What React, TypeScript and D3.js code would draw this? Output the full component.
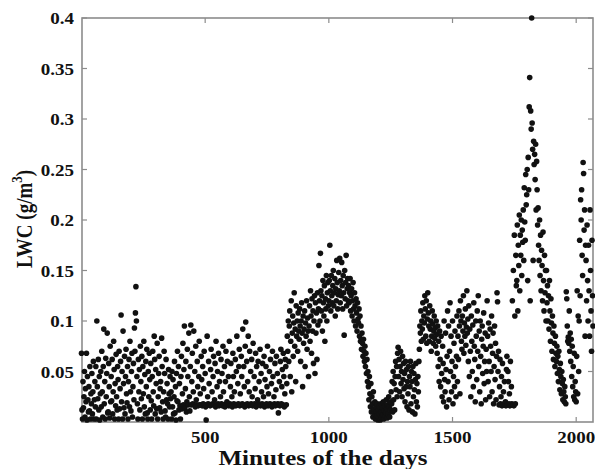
import React from "react";
import * as d3 from "d3";

// Tick values
const xTickValues = [500, 1000, 1500, 2000];
const yTickValues = [0.05, 0.1, 0.15, 0.2, 0.25, 0.3, 0.35, 0.4];

// LWC readings (in 0.001 g/m^3), sampled every 2 minutes, split in day segments
const stepMinutes = 2;

const earlyStart = 0;
const lwcEarly = [
  68, 12, 3, 40, 14, 25, 50, 5, 33, 20, 68, 2, 45, 22, 10, 35, 11, 55, 3, 28,
  18, 48, 8, 30, 60, 3, 22, 40, 15, 55, 3, 100, 35, 23, 62, 12, 45, 2, 28, 50,
  15, 70, 30, 5, 55, 92, 18, 40, 3, 63, 25, 48, 88, 9, 10, 58, 35, 4, 75, 20,
  45, 21, 62, 8, 30, 80, 52, 3, 38, 16, 67, 25, 12, 55, 42, 3, 70, 13, 33, 60,
  106, 20, 50, 3, 90, 38, 14, 65, 8, 45, 72, 28, 19, 55, 3, 40, 62, 15, 80, 30,
  11, 50, 68, 5, 35, 58, 22, 93, 70, 108, 134, 100, 45, 18, 3, 62, 30, 52, 12, 75,
  40, 23, 65, 3, 55, 28, 80, 15, 47, 8, 60, 35, 72, 9, 3, 50, 25, 68, 42, 12,
  58, 21, 3, 45, 70, 30, 16, 85, 62, 8, 52, 38, 13, 78, 3, 25, 48, 65, 14, 33,
  40, 10, 83, 55, 20, 3, 30, 70, 48, 11, 5, 62, 22, 38, 18, 3, 52, 28, 15, 45,
  23, 30, 3, 50, 15, 42, 8, 25, 60, 9, 35, 2, 48, 21, 70, 20, 55, 12, 38, 16,
  3, 45, 65, 13, 28, 78, 17, 52, 95, 14, 33, 60, 10, 20, 72, 45, 17, 88, 25, 11,
  55, 96, 17, 40, 68, 18, 30, 90, 17, 50, 15, 75, 22, 17, 60, 35, 16, 45, 80, 17,
];

const morningStart = 480;
const lwcMorning = [
  28, 17, 65, 42, 16, 55, 18, 33, 70, 17, 48, 15, 2, 17, 85, 25, 18, 60, 38, 17,
  16, 52, 72, 17, 30, 18, 45, 65, 17, 22, 58, 15, 80, 17, 35, 50, 18, 68, 16, 40,
  17, 25, 62, 18, 48, 16, 75, 30, 17, 55, 15, 40, 70, 18, 20, 60, 17, 45, 16, 80,
  18, 35, 58, 17, 25, 15, 68, 45, 18, 30, 17, 62, 16, 50, 85, 17, 38, 18, 55, 72,
  16, 28, 17, 65, 45, 18, 92, 17, 55, 35, 15, 75, 99, 17, 60, 18, 40, 85, 16, 30,
  70, 17, 50, 18, 62, 25, 16, 78, 17, 45, 18, 33, 68, 15, 55, 17, 22, 60, 18, 40,
  17, 72, 16, 48, 30, 18, 58, 17, 25, 65, 15, 42, 17, 55, 18, 35, 75, 16, 28, 17,
  50, 18, 62, 17, 38, 15, 70, 45, 17, 25, 18, 58, 16, 32, 65, 17, 48, 18, 9, 17,
  40, 16, 60, 72, 18, 35, 52, 17, 68, 45, 15, 28, 62, 55, 17, 38, 85, 70, 100, 60,
];

const riseStart = 840;
const lwcRise = [
  95, 110, 45, 80, 120, 30, 88, 105, 65, 98, 128, 75, 92, 40, 115, 85, 100, 70, 108, 90,
  82, 112, 95, 60, 100, 118, 88, 35, 105, 78, 92, 110, 55, 98, 85, 120, 72, 103, 90, 45,
  95, 115, 80, 130, 105, 68, 122, 90, 110, 58, 100, 125, 48, 118, 88, 108, 62, 128, 96, 112,
  155, 120, 100, 167, 130, 110, 125, 90, 140, 118, 105, 135, 80, 122, 112, 145, 100, 128, 138, 115,
  120, 140, 175, 130, 110, 145, 125, 118, 135, 150, 115, 128, 142, 105, 132, 120, 160, 138, 112, 126,
  148, 130, 162, 118, 140, 125, 158, 135, 112, 145, 128, 86, 150, 122, 138, 165, 115, 132, 142, 120,
  135, 118, 128, 142, 110, 125, 132, 105, 120, 138, 112, 100, 128, 115, 95, 122, 108, 90, 118, 102,
  98, 112, 85, 105, 80, 95, 72, 88, 78, 65, 82, 70, 60, 75, 55, 68, 48, 62, 40, 50,
  35, 22, 45, 28, 15, 38, 10, 25, 18, 5, 30, 12, 8, 20, 3, 15, 10, 6, 18, 2,
];

const midStart = 1200;
const lwcMid = [
  12, 5, 15, 8, 2, 18, 10, 4, 14, 7, 20, 3, 11, 16, 6, 9, 22, 13, 4, 17,
  8, 25, 15, 5, 20, 12, 30, 18, 40, 10, 50, 22, 38, 12, 45, 60, 32, 55, 25, 68,
  74, 45, 62, 30, 55, 70, 38, 50, 25, 65, 42, 58, 33, 48, 20, 60, 35, 52, 15, 40,
  28, 55, 12, 45, 35, 60, 18, 50, 40, 10, 55, 25, 48, 32, 8, 42, 58, 20, 38, 15,
  45, 30, 60, 72, 95, 88, 110, 80, 100, 92, 118, 82, 105, 98, 125, 112, 85, 120, 78, 102,
  128, 108, 95, 80, 115, 92, 100, 70, 85, 110, 97, 78, 90, 105, 83, 93, 75, 100, 87, 68,
  95, 55, 80, 40, 90, 62, 35, 85, 48, 25, 75, 58, 20, 100, 42, 30, 88, 52, 15, 65,
  110, 40, 95, 22, 70, 118, 50, 85, 30, 60, 100, 18, 45, 78, 35, 90, 55, 25, 65, 105,
  40, 85, 62, 110, 95, 28, 120, 100, 80, 72, 105, 90, 125, 68, 98, 85, 112, 76, 94, 130,
  88, 102, 60, 115, 45, 92, 70, 25, 105, 80, 50, 96, 35, 118, 75, 62, 20, 100, 85, 42,
  110, 70, 125, 55, 90, 30, 100, 65, 18, 82, 95, 48, 75, 108, 38, 60, 88, 22, 72, 50,
  120, 85, 40, 98, 60, 25, 92, 75, 50, 105, 30, 68, 88, 18, 55, 95, 42, 78, 22, 65,
  128, 119, 50, 70, 17, 35, 62, 18, 25, 45, 16, 58, 17, 30, 18, 40, 17, 20, 16, 52,
  65, 17, 50, 40, 18, 28, 16, 60, 17, 35, 18, 120, 17, 150, 16, 185, 105, 18, 165, 135,
];

const peakStart = 1760;
const lwcPeak = [
  140, 195, 110, 175, 155, 205, 130, 185, 165, 200, 145, 190, 178, 210, 160, 232, 198, 180, 245, 215,
  225, 250, 140, 262, 230, 312, 341, 120, 308, 290, 400, 296, 270, 160, 278, 255, 265, 240, 275, 210,
  258, 230, 195, 212, 175, 160, 200, 145, 185, 130, 170, 155, 120, 188, 140, 110, 165, 128, 150, 100,
  150, 118, 135, 100, 125, 92, 140, 110, 80, 122, 98, 70, 105, 88, 62, 95, 78, 55, 85, 68,
  60, 75, 48, 65, 40, 70, 52, 32, 58, 45, 28, 50, 38, 22, 42, 30, 20, 35, 25, 18,
  129, 122, 95, 80, 84, 78, 110, 70, 88, 60, 82, 45, 75, 35, 55, 25, 68, 22, 40, 30,
  20, 65, 130, 28, 105, 50, 100, 180, 125, 220, 200, 230, 165, 145, 257, 246, 190, 210, 85, 175,
  160, 120, 195, 140, 100, 175, 130, 85, 210, 150, 110, 70, 180, 125, 95,
];

const segments: [number, number[]][] = [
  [earlyStart, lwcEarly],
  [morningStart, lwcMorning],
  [riseStart, lwcRise],
  [midStart, lwcMid],
  [peakStart, lwcPeak],
];

const points = segments.flatMap(([start, vals]) =>
  vals.map((v, i) => ({ minute: start + i * stepMinutes, lwc: v / 1000 }))
);

const W = 595;
const H = 469;
const plot = { left: 82, right: 593, top: 18, bottom: 422 };

const x = d3.scaleLinear().domain([0, 2070]).range([81.5, 593.5]);
const y = d3.scaleLinear().domain([0, 0.4]).range([plot.bottom, plot.top]);

const axisColor = "#8c8c8c";
const font = "'Liberation Serif', 'Times New Roman', serif";
const tickLen = 5;
const fmt = (v: number) => String(+v.toFixed(2));

export default function App() {
  return (
    <svg
      width={W}
      height={H}
      style={{ position: "absolute", left: 0, top: 0, background: "#fff" }}
    >
      <rect x={0} y={0} width={W} height={H} fill="#fff" />
      <g stroke={axisColor} strokeWidth={1.2}>
        {xTickValues.map((t) => (
          <g key={"xt" + t}>
            <line x1={x(t)} x2={x(t)} y1={plot.bottom} y2={plot.bottom - tickLen} />
            <line x1={x(t)} x2={x(t)} y1={plot.top} y2={plot.top + tickLen} />
          </g>
        ))}
        {yTickValues.map((t) => (
          <g key={"yt" + t}>
            <line x1={plot.left} x2={plot.left + tickLen} y1={y(t)} y2={y(t)} />
            <line x1={plot.right} x2={plot.right - tickLen} y1={y(t)} y2={y(t)} />
          </g>
        ))}
      </g>
      <rect
        x={plot.left}
        y={plot.top}
        width={plot.right - plot.left}
        height={plot.bottom - plot.top}
        fill="none"
        stroke={axisColor}
        strokeWidth={1.6}
      />
      <g fill="#111">
        {points.map((p, i) => (
          <circle key={i} cx={x(p.minute)} cy={y(p.lwc)} r={2.8} />
        ))}
      </g>
      <g fontFamily={font} fontWeight="bold" fontSize={17} fill="#111">
        {xTickValues.map((t) => (
          <text
            key={"xl" + t}
            transform={`translate(${x(t)},443) scale(1.12,1)`}
            textAnchor="middle"
          >
            {fmt(t)}
          </text>
        ))}
        {yTickValues.map((t) => (
          <text
            key={"yl" + t}
            transform={`translate(74,${y(t) + 6}) scale(1.12,1)`}
            textAnchor="end"
          >
            {fmt(t)}
          </text>
        ))}
      </g>
      <text
        transform="translate(323,465) scale(1.25,1)"
        textAnchor="middle"
        fontFamily={font}
        fontWeight="bold"
        fontSize={20}
        fill="#111"
      >
        Minutes of the days
      </text>
      <text
        transform="translate(32,219) scale(1.2,1) rotate(-90)"
        textAnchor="middle"
        fontFamily={font}
        fontWeight="bold"
        fontSize={19}
        fill="#111"
      >
        LWC (g/m
        <tspan fontSize={13} dy={-8}>
          3
        </tspan>
        <tspan dy={8}>)</tspan>
      </text>
    </svg>
  );
}
